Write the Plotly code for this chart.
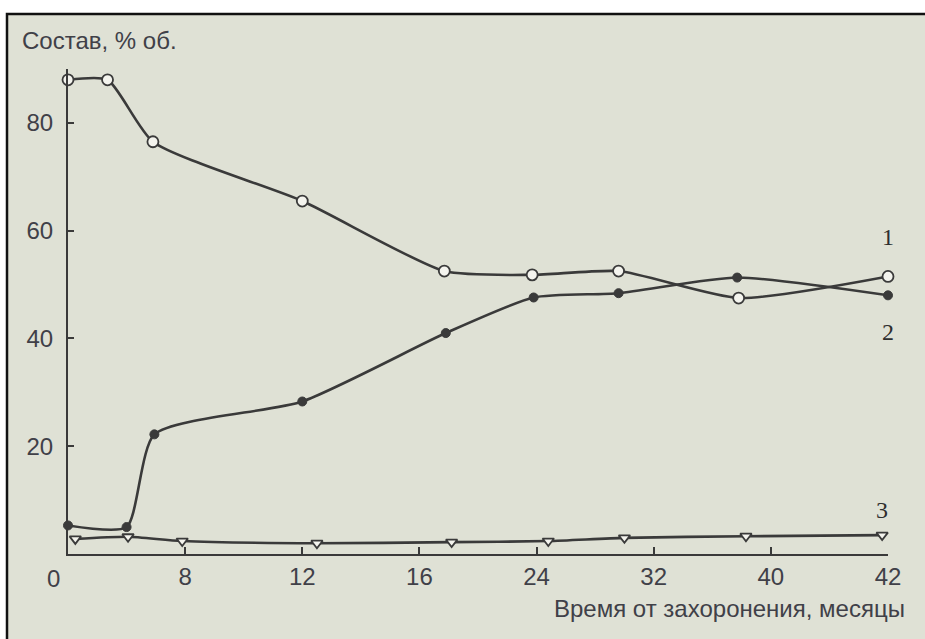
import numpy as np
import plotly.graph_objects as go

# Axis tick labels (months) — placed at evenly spaced axis positions
tick_months = [0, 8, 12, 16, 24, 32, 40, 42]
tick_labels = ["0", "8", "12", "16", "24", "32", "40", "42"]
y_ticks = [20, 40, 60, 80]

# Series 1 (open circles)
s1_months = [0, 2.7, 5.8, 12, 17.7, 23.7, 29.6, 37.8, 42]
s1_vals = [88, 88, 76.5, 65.5, 52.5, 51.8, 52.5, 47.5, 51.5]
# Series 2 (filled circles)
s2_months = [0, 4.0, 5.9, 12, 17.8, 23.8, 29.6, 37.7, 42]
s2_vals = [5.3, 5.0, 22.2, 28.3, 41.0, 47.6, 48.4, 51.3, 48.0]
# Series 3 (open triangles)
s3_months = [0.5, 4.1, 7.8, 12.5, 18.2, 24.8, 30.0, 38.3, 41.9]
s3_vals = [2.8, 3.2, 2.4, 2.0, 2.2, 2.4, 3.0, 3.3, 3.5]

tick_pos = list(range(len(tick_months)))


def pos(m):
    return np.interp(m, tick_months, tick_pos)


W, H = 925, 639
ML, MR, MT, MB = 68, 37, 69, 85
BG = "#dfe1d5"
INK = "#3a3a3a"
TXT = "#404048"
FONT = "Liberation Sans, Arial, sans-serif"

fig = go.Figure()

line_style = dict(color=INK, width=2.6, shape="spline", smoothing=0.6)

fig.add_trace(go.Scatter(
    x=pos(s3_months), y=s3_vals, mode="lines+markers",
    line=line_style, cliponaxis=False,
    marker=dict(symbol="triangle-down", size=10, color="#f4f4ee",
                line=dict(color=INK, width=1.8)),
    name="3"))
fig.add_trace(go.Scatter(
    x=pos(s2_months), y=s2_vals, mode="lines+markers",
    line=line_style, cliponaxis=False,
    marker=dict(symbol="circle", size=9, color=INK,
                line=dict(color=INK, width=1)),
    name="2"))
fig.add_trace(go.Scatter(
    x=pos(s1_months), y=s1_vals, mode="lines+markers",
    line=line_style, cliponaxis=False,
    marker=dict(symbol="circle", size=11, color="#f4f4ee",
                line=dict(color=INK, width=1.8)),
    name="1"))

pw = W - ML - MR
ph = H - MT - MB


def px2paper_x(px):
    return (px - ML) / pw


def px2paper_y(py):
    return (H - MB - py) / ph


# Page frame with tinted background
fig.add_shape(type="rect", xref="paper", yref="paper",
              x0=px2paper_x(7), x1=px2paper_x(940),
              y0=px2paper_y(660), y1=px2paper_y(14),
              fillcolor=BG, line=dict(color="#111111", width=2.5),
              layer="below")

# Series labels
for txt, m, v in [("1", 42, 58.8), ("2", 42, 41.2), ("3", 41.9, 8.2)]:
    fig.add_annotation(x=pos(m), y=v, text=txt, showarrow=False,
                       font=dict(family="Liberation Serif, Times New Roman, serif",
                                 size=24, color="#2e2e2e"))

# The "0" label sits left of the y-axis in the original
fig.add_annotation(xref="paper", yref="y", x=px2paper_x(53), y=0, yshift=-24,
                   text=tick_labels[0], showarrow=False, xanchor="center",
                   font=dict(family=FONT, size=24, color=TXT))

# Axis titles
fig.add_annotation(xref="paper", yref="paper", x=px2paper_x(20), y=px2paper_y(40),
                   xanchor="left", yanchor="middle", text="Состав, % об.",
                   showarrow=False, font=dict(family=FONT, size=24, color=TXT))
fig.add_annotation(xref="paper", yref="paper", x=px2paper_x(907), y=px2paper_y(608),
                   xanchor="right", yanchor="middle", text="Время от захоронения, месяцы",
                   showarrow=False, font=dict(family=FONT, size=24, color=TXT))

fig.update_layout(
    width=W, height=H,
    margin=dict(l=ML, r=MR, t=MT, b=MB),
    paper_bgcolor="white", plot_bgcolor="rgba(0,0,0,0)",
    showlegend=False,
    xaxis=dict(range=[0, 7], tickvals=tick_pos[1:], ticktext=tick_labels[1:],
               showgrid=False, zeroline=False, showline=True,
               linecolor=INK, linewidth=2.2, ticks="inside", ticklen=7,
               tickwidth=1.5, tickcolor=INK,
               tickfont=dict(family=FONT, size=24, color=TXT)),
    yaxis=dict(range=[0, 90], tickvals=y_ticks,
               showgrid=False, zeroline=False, showline=True,
               linecolor=INK, linewidth=2.2, ticks="inside", ticklen=6,
               tickwidth=1.5, tickcolor=INK, ticklabelstandoff=8,
               tickfont=dict(family=FONT, size=24, color=TXT)),
)

fig.write_html("out.html")
